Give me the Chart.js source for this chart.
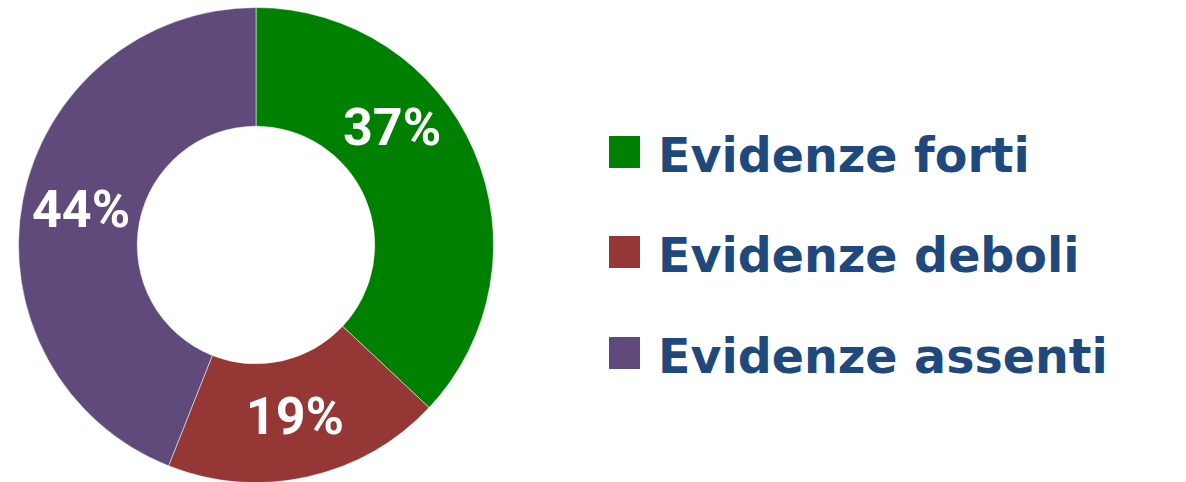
<!DOCTYPE html>
<html>
<head>
<meta charset="utf-8">
<script src="https://cdn.jsdelivr.net/npm/chart.js@4/dist/chart.umd.min.js"></script>
<style>
  html, body { margin: 0; padding: 0; background: #fff; overflow: hidden; width: 1186px; height: 482px; }
  #wrap { position: absolute; left: 0; top: 0; width: 512px; height: 490px; }
  #legend { position: absolute; left: 0; top: 0; }
  .row { position: absolute; left: 609px; height: 48px; white-space: nowrap; }
  .sw { position: absolute; left: 0; top: 4px; width: 31px; height: 32px; }
  .tx { position: absolute; left: 49px; top: 0; line-height: 48px; font-family: "DejaVu Sans", sans-serif; font-weight: bold; font-size: 47.5px; color: #1F497D; }
</style>
</head>
<body>
<div id="wrap"><canvas id="c"></canvas></div>
<div id="legend"></div>
<script>
const categories = ["Evidenze forti", "Evidenze deboli", "Evidenze assenti"];
const values = [37, 19, 44];
const valueLabels = ["37%", "19%", "44%"];
const colors = ["#008000", "#953735", "#604A7B"];
const labelAngleShiftDeg = [-16.8, 0, 0];

const labelPlugin = {
  id: 'sliceLabels',
  afterDatasetsDraw(chart) {
    const ctx = chart.ctx;
    const meta = chart.getDatasetMeta(0);
    ctx.save();
    ctx.fillStyle = '#ffffff';
    ctx.font = 'bold 52px Roboto, sans-serif';
    ctx.textAlign = 'center';
    ctx.textBaseline = 'middle';
    meta.data.forEach((arc, i) => {
      const p = arc.getProps(['x', 'y', 'startAngle', 'endAngle', 'innerRadius', 'outerRadius'], true);
      const a = (p.startAngle + p.endAngle) / 2 + labelAngleShiftDeg[i] * Math.PI / 180;
      const r = (p.innerRadius + p.outerRadius) / 2;
      ctx.fillText(valueLabels[i], p.x + Math.cos(a) * r, p.y + Math.sin(a) * r + 2);
    });
    ctx.restore();
  }
};

new Chart(document.getElementById('c'), {
  type: 'doughnut',
  data: {
    labels: categories,
    datasets: [{
      data: values,
      backgroundColor: colors,
      borderColor: 'rgba(255,255,255,0.5)',
      borderWidth: 1
    }]
  },
  options: {
    responsive: true,
    maintainAspectRatio: false,
    animation: false,
    cutout: '50%',
    layout: { padding: { left: 18, right: 18, top: 7, bottom: 7 } },
    plugins: { legend: { display: false }, tooltip: { enabled: false } }
  },
  plugins: [labelPlugin]
});

const legend = document.getElementById('legend');
categories.forEach((name, i) => {
  const row = document.createElement('div');
  row.className = 'row';
  row.style.top = (131.5 + i * 100.5) + 'px';
  const sw = document.createElement('div');
  sw.className = 'sw';
  sw.style.background = colors[i];
  const tx = document.createElement('div');
  tx.className = 'tx';
  tx.textContent = name;
  row.appendChild(sw);
  row.appendChild(tx);
  legend.appendChild(row);
});
</script>
</body>
</html>
